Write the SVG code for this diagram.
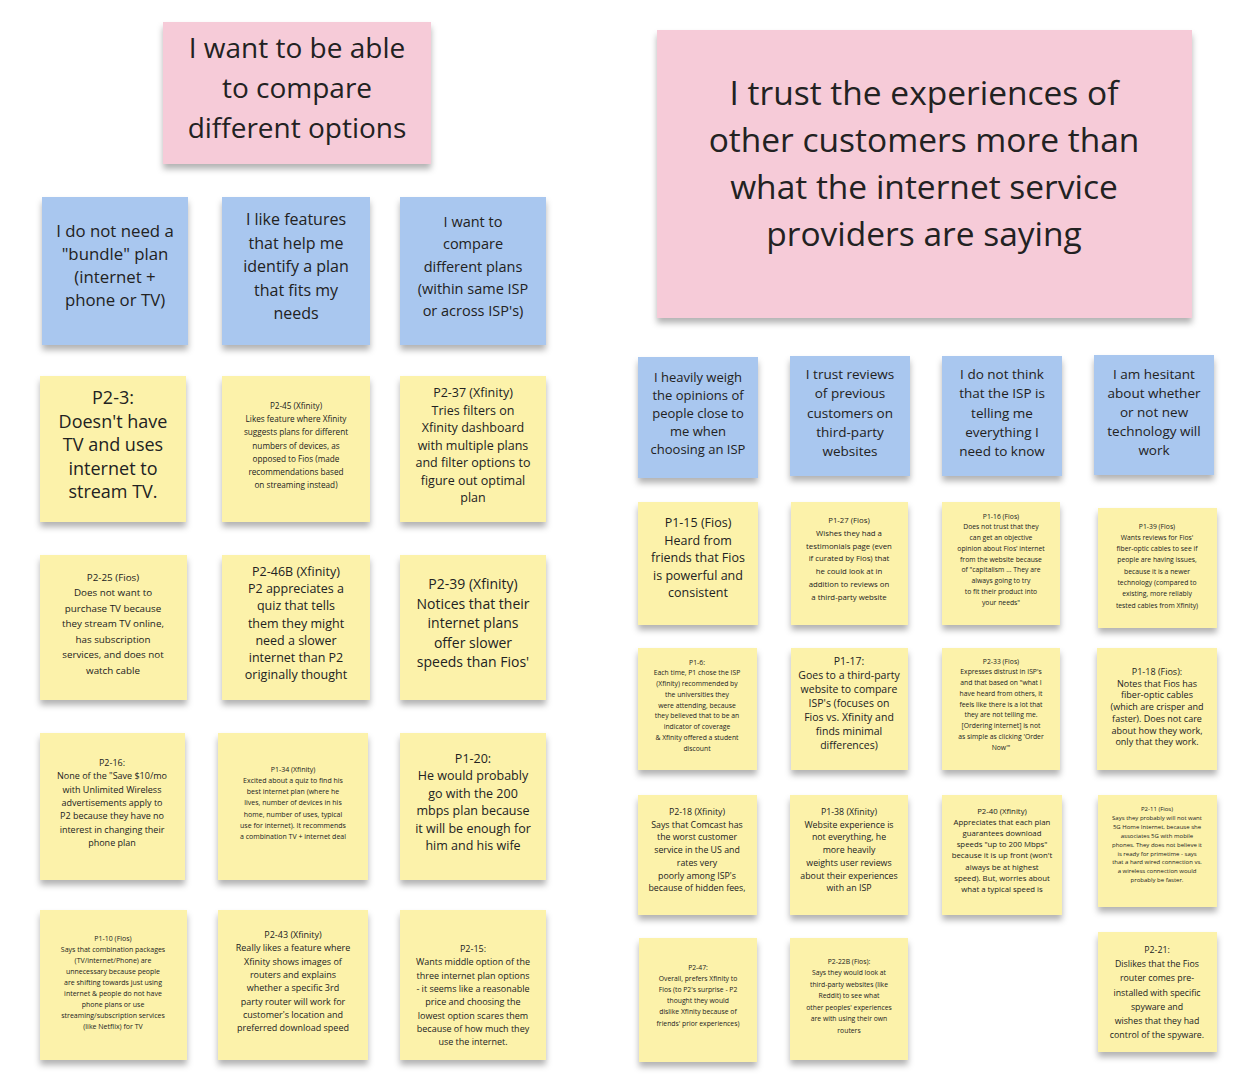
<svg xmlns="http://www.w3.org/2000/svg" width="1260" height="1092" viewBox="0 0 1260 1092">
<style>
.y{fill:#fcf2aa}
.b{fill:#a9c7ef}
.p{fill:#f6cbd8}
text{font-family:"Open Sans","Noto Sans","Liberation Sans",sans-serif;fill:#222222;text-anchor:middle}
</style>
<defs>
<filter id="sh" x="-10%" y="-10%" width="120%" height="130%">
<feDropShadow dx="0" dy="5" stdDeviation="3" flood-color="#000" flood-opacity="0.3"/>
</filter>
</defs>
<rect width="1260" height="1092" fill="#ffffff"/>
<g id="connectors"></g>

<g id="h-left"><rect class="p" x="163" y="22" width="268" height="142" filter="url(#sh)"/>
<text font-size="28" y="58"><tspan x="297">I want to be able</tspan><tspan x="297" dy="40">to compare</tspan><tspan x="297" dy="40">different options</tspan></text></g>

<g id="h-right"><rect class="p" x="657" y="30" width="535" height="288" filter="url(#sh)"/>
<text font-size="33.5" y="105"><tspan x="924">I trust the experiences of</tspan><tspan x="924" dy="47">other customers more than</tspan><tspan x="924" dy="47">what the internet service</tspan><tspan x="924" dy="47">providers are saying</tspan></text></g>

<!-- left blue -->
<g id="lb1"><rect class="b" x="42" y="197" width="146" height="148" filter="url(#sh)"/>
<text font-size="16.8" y="237"><tspan x="115">I do not need a</tspan><tspan x="115" dy="23">"bundle" plan</tspan><tspan x="115" dy="23">(internet +</tspan><tspan x="115" dy="23">phone or TV)</tspan></text></g>
<g id="lb2"><rect class="b" x="222" y="197" width="148" height="148" filter="url(#sh)"/>
<text font-size="16" y="225"><tspan x="296">I like features</tspan><tspan x="296" dy="23.5">that help me</tspan><tspan x="296" dy="23.5">identify a plan</tspan><tspan x="296" dy="23.5">that fits my</tspan><tspan x="296" dy="23.5">needs</tspan></text></g>
<g id="lb3"><rect class="b" x="400" y="197" width="146" height="148" filter="url(#sh)"/>
<text font-size="14.5" y="227"><tspan x="473">I want to</tspan><tspan x="473" dy="22.3">compare</tspan><tspan x="473" dy="22.3">different plans</tspan><tspan x="473" dy="22.3">(within same ISP</tspan><tspan x="473" dy="22.3">or across ISP's)</tspan></text></g>

<!-- left yellow row1 -->
<g id="p2-3"><rect class="y" x="40" y="376" width="146" height="146" filter="url(#sh)"/>
<text font-size="18" y="404"><tspan x="113">P2-3:</tspan><tspan x="113" dy="23.5">Doesn't have</tspan><tspan x="113" dy="23.5">TV and uses</tspan><tspan x="113" dy="23.5">internet to</tspan><tspan x="113" dy="23.5">stream TV.</tspan></text></g>
<g id="p2-45"><rect class="y" x="222" y="376" width="148" height="146" filter="url(#sh)"/>
<text font-size="8.2" y="409"><tspan x="296">P2-45 (Xfinity)</tspan><tspan x="296" dy="13.2">Likes feature where Xfinity</tspan><tspan x="296" dy="13.2">suggests plans for different</tspan><tspan x="296" dy="13.2">numbers of devices, as</tspan><tspan x="296" dy="13.2">opposed to Fios (made</tspan><tspan x="296" dy="13.2">recommendations based</tspan><tspan x="296" dy="13.2">on streaming instead)</tspan></text></g>
<g id="p2-37"><rect class="y" x="400" y="376" width="146" height="146" filter="url(#sh)"/>
<text font-size="12.5" y="397"><tspan x="473">P2-37 (Xfinity)</tspan><tspan x="473" dy="17.5">Tries filters on</tspan><tspan x="473" dy="17.5">Xfinity dashboard</tspan><tspan x="473" dy="17.5">with multiple plans</tspan><tspan x="473" dy="17.5">and filter options to</tspan><tspan x="473" dy="17.5">figure out optimal</tspan><tspan x="473" dy="17.5">plan</tspan></text></g>

<!-- row2 -->
<g id="p2-25"><rect class="y" x="40" y="555" width="147" height="145" filter="url(#sh)"/>
<text font-size="9.8" y="580.5"><tspan x="113">P2-25 (Fios)</tspan><tspan x="113" dy="15.5">Does not want to</tspan><tspan x="113" dy="15.5">purchase TV because</tspan><tspan x="113" dy="15.5">they stream TV online,</tspan><tspan x="113" dy="15.5">has subscription</tspan><tspan x="113" dy="15.5">services, and does not</tspan><tspan x="113" dy="15.5">watch cable</tspan></text></g>
<g id="p2-46b"><rect class="y" x="222" y="555" width="148" height="145" filter="url(#sh)"/>
<text font-size="12.5" y="576"><tspan x="296">P2-46B (Xfinity)</tspan><tspan x="296" dy="17.2">P2 appreciates a</tspan><tspan x="296" dy="17.2">quiz that tells</tspan><tspan x="296" dy="17.2">them they might</tspan><tspan x="296" dy="17.2">need a slower</tspan><tspan x="296" dy="17.2">internet than P2</tspan><tspan x="296" dy="17.2">originally thought</tspan></text></g>
<g id="p2-39"><rect class="y" x="400" y="555" width="146" height="145" filter="url(#sh)"/>
<text font-size="14" y="589"><tspan x="473">P2-39 (Xfinity)</tspan><tspan x="473" dy="19.5">Notices that their</tspan><tspan x="473" dy="19.5">internet plans</tspan><tspan x="473" dy="19.5">offer slower</tspan><tspan x="473" dy="19.5">speeds than Fios'</tspan></text></g>

<!-- row3 -->
<g id="p2-16"><rect class="y" x="40" y="733" width="145" height="147" filter="url(#sh)"/>
<text font-size="9" y="766"><tspan x="112">P2-16:</tspan><tspan x="112" dy="13.3">None of the "Save $10/mo</tspan><tspan x="112" dy="13.3">with Unlimited Wireless</tspan><tspan x="112" dy="13.3">advertisements apply to</tspan><tspan x="112" dy="13.3">P2 because they have no</tspan><tspan x="112" dy="13.3">interest in changing their</tspan><tspan x="112" dy="13.3">phone plan</tspan></text></g>
<g id="p1-34"><rect class="y" x="218" y="733" width="150" height="147" filter="url(#sh)"/>
<text font-size="7" y="771.5"><tspan x="293">P1-34 (Xfinity)</tspan><tspan x="293" dy="11.3">Excited about a quiz to find his</tspan><tspan x="293" dy="11.3">best internet plan (where he</tspan><tspan x="293" dy="11.3">lives, number of devices in his</tspan><tspan x="293" dy="11.3">home, number of uses, typical</tspan><tspan x="293" dy="11.3">use for internet). It recommends</tspan><tspan x="293" dy="11.3">a combination TV + internet deal</tspan></text></g>
<g id="p1-20"><rect class="y" x="400" y="733" width="146" height="147" filter="url(#sh)"/>
<text font-size="12.5" y="763"><tspan x="473">P1-20:</tspan><tspan x="473" dy="17.4">He would probably</tspan><tspan x="473" dy="17.4">go with the 200</tspan><tspan x="473" dy="17.4">mbps plan because</tspan><tspan x="473" dy="17.4">it will be enough for</tspan><tspan x="473" dy="17.4">him and his wife</tspan></text></g>

<!-- row4 -->
<g id="p1-10"><rect class="y" x="40" y="910" width="147" height="150" filter="url(#sh)"/>
<text font-size="7" y="940.5"><tspan x="113">P1-10 (Fios)</tspan><tspan x="113" dy="11.1">Says that combination packages</tspan><tspan x="113" dy="11.1">(TV/internet/Phone) are</tspan><tspan x="113" dy="11.1">unnecessary because people</tspan><tspan x="113" dy="11.1">are shifting towards just using</tspan><tspan x="113" dy="11.1">internet &amp; people do not have</tspan><tspan x="113" dy="11.1">phone plans or use</tspan><tspan x="113" dy="11.1">streaming/subscription services</tspan><tspan x="113" dy="11.1">(like Netflix) for TV</tspan></text></g>
<g id="p2-43"><rect class="y" x="218" y="910" width="150" height="150" filter="url(#sh)"/>
<text font-size="9" y="938"><tspan x="293">P2-43 (Xfinity)</tspan><tspan x="293" dy="13.3">Really likes a feature where</tspan><tspan x="293" dy="13.3">Xfinity shows images of</tspan><tspan x="293" dy="13.3">routers and explains</tspan><tspan x="293" dy="13.3">whether a specific 3rd</tspan><tspan x="293" dy="13.3">party router will work for</tspan><tspan x="293" dy="13.3">customer's location and</tspan><tspan x="293" dy="13.3">preferred download speed</tspan></text></g>
<g id="p2-15"><rect class="y" x="400" y="910" width="146" height="150" filter="url(#sh)"/>
<text font-size="9" y="952"><tspan x="473">P2-15:</tspan><tspan x="473" dy="13.3">Wants middle option of the</tspan><tspan x="473" dy="13.3">three internet plan options</tspan><tspan x="473" dy="13.3">- it seems like a reasonable</tspan><tspan x="473" dy="13.3">price and choosing the</tspan><tspan x="473" dy="13.3">lowest option scares them</tspan><tspan x="473" dy="13.3">because of how much they</tspan><tspan x="473" dy="13.3">use the internet.</tspan></text></g>

<!-- right blue -->
<g id="rb1"><rect class="b" x="638" y="357" width="120" height="121" filter="url(#sh)"/>
<text font-size="13" y="381.5"><tspan x="698">I heavily weigh</tspan><tspan x="698" dy="18">the opinions of</tspan><tspan x="698" dy="18">people close to</tspan><tspan x="698" dy="18">me when</tspan><tspan x="698" dy="18">choosing an ISP</tspan></text></g>
<g id="rb2"><rect class="b" x="790" y="356" width="120" height="120" filter="url(#sh)"/>
<text font-size="13.5" y="379"><tspan x="850">I trust reviews</tspan><tspan x="850" dy="19.25">of previous</tspan><tspan x="850" dy="19.25">customers on</tspan><tspan x="850" dy="19.25">third-party</tspan><tspan x="850" dy="19.25">websites</tspan></text></g>
<g id="rb3"><rect class="b" x="942" y="356" width="120" height="120" filter="url(#sh)"/>
<text font-size="13.5" y="379"><tspan x="1002">I do not think</tspan><tspan x="1002" dy="19.25">that the ISP is</tspan><tspan x="1002" dy="19.25">telling me</tspan><tspan x="1002" dy="19.25">everything I</tspan><tspan x="1002" dy="19.25">need to know</tspan></text></g>
<g id="rb4"><rect class="b" x="1094" y="355" width="120" height="120" filter="url(#sh)"/>
<text font-size="13.5" y="379"><tspan x="1154">I am hesitant</tspan><tspan x="1154" dy="19">about whether</tspan><tspan x="1154" dy="19">or not new</tspan><tspan x="1154" dy="19">technology will</tspan><tspan x="1154" dy="19">work</tspan></text></g>

<!-- right row1 -->
<g id="p1-15"><rect class="y" x="638" y="502" width="120" height="123" filter="url(#sh)"/>
<text font-size="12.5" y="527"><tspan x="698">P1-15 (Fios)</tspan><tspan x="698" dy="17.5">Heard from</tspan><tspan x="698" dy="17.5">friends that Fios</tspan><tspan x="698" dy="17.5">is powerful and</tspan><tspan x="698" dy="17.5">consistent</tspan></text></g>
<g id="p1-27"><rect class="y" x="791" y="502" width="117" height="123" filter="url(#sh)"/>
<text font-size="7.8" y="523"><tspan x="849">P1-27 (Fios)</tspan><tspan x="849" dy="12.8">Wishes they had a</tspan><tspan x="849" dy="12.8">testimonials page (even</tspan><tspan x="849" dy="12.8">if curated by Fios) that</tspan><tspan x="849" dy="12.8">he could look at in</tspan><tspan x="849" dy="12.8">addition to reviews on</tspan><tspan x="849" dy="12.8">a third-party website</tspan></text></g>
<g id="p1-16"><rect class="y" x="942" y="502" width="118" height="123" filter="url(#sh)"/>
<text font-size="6.8" y="518.5"><tspan x="1001">P1-16 (Fios)</tspan><tspan x="1001" dy="10.75">Does not trust that they</tspan><tspan x="1001" dy="10.75">can get an objective</tspan><tspan x="1001" dy="10.75">opinion about Fios' internet</tspan><tspan x="1001" dy="10.75">from the website because</tspan><tspan x="1001" dy="10.75">of "capitalism ... They are</tspan><tspan x="1001" dy="10.75">always going to try</tspan><tspan x="1001" dy="10.75">to fit their product into</tspan><tspan x="1001" dy="10.75">your needs"</tspan></text></g>
<g id="p1-39"><rect class="y" x="1098" y="508" width="119" height="120" filter="url(#sh)"/>
<text font-size="6.8" y="528.5"><tspan x="1157">P1-39 (Fios)</tspan><tspan x="1157" dy="11.3">Wants reviews for Fios'</tspan><tspan x="1157" dy="11.3">fiber-optic cables to see if</tspan><tspan x="1157" dy="11.3">people are having issues,</tspan><tspan x="1157" dy="11.3">because it is a newer</tspan><tspan x="1157" dy="11.3">technology (compared to</tspan><tspan x="1157" dy="11.3">existing, more reliably</tspan><tspan x="1157" dy="11.3">tested cables from Xfinity)</tspan></text></g>

<!-- right row2 -->
<g id="p1-6"><rect class="y" x="638" y="648" width="119" height="122" filter="url(#sh)"/>
<text font-size="6.8" y="664.5"><tspan x="697">P1-6:</tspan><tspan x="697" dy="10.75">Each time, P1 chose the ISP</tspan><tspan x="697" dy="10.75">(Xfinity) recommended by</tspan><tspan x="697" dy="10.75">the universities they</tspan><tspan x="697" dy="10.75">were attending, because</tspan><tspan x="697" dy="10.75">they believed that to be an</tspan><tspan x="697" dy="10.75">indicator of coverage</tspan><tspan x="697" dy="10.75">&amp; Xfinity offered a student</tspan><tspan x="697" dy="10.75">discount</tspan></text></g>
<g id="p1-17"><rect class="y" x="791" y="648" width="117" height="122" filter="url(#sh)"/>
<text font-size="10.5" y="664.7"><tspan x="849">P1-17:</tspan><tspan x="849" dy="14">Goes to a third-party</tspan><tspan x="849" dy="14">website to compare</tspan><tspan x="849" dy="14">ISP's (focuses on</tspan><tspan x="849" dy="14">Fios vs. Xfinity and</tspan><tspan x="849" dy="14">finds minimal</tspan><tspan x="849" dy="14">differences)</tspan></text></g>
<g id="p2-33"><rect class="y" x="942" y="648" width="118" height="122" filter="url(#sh)"/>
<text font-size="6.8" y="663.5"><tspan x="1001">P2-33 (Fios)</tspan><tspan x="1001" dy="10.75">Expresses distrust in ISP's</tspan><tspan x="1001" dy="10.75">and that based on "what I</tspan><tspan x="1001" dy="10.75">have heard from others, it</tspan><tspan x="1001" dy="10.75">feels like there is a lot that</tspan><tspan x="1001" dy="10.75">they are not telling me.</tspan><tspan x="1001" dy="10.75">[Ordering internet] is not</tspan><tspan x="1001" dy="10.75">as simple as clicking 'Order</tspan><tspan x="1001" dy="10.75">Now'"</tspan></text></g>
<g id="p1-18"><rect class="y" x="1097" y="648" width="120" height="122" filter="url(#sh)"/>
<text font-size="9" y="675"><tspan x="1157">P1-18 (Fios):</tspan><tspan x="1157" dy="11.7">Notes that Fios has</tspan><tspan x="1157" dy="11.7">fiber-optic cables</tspan><tspan x="1157" dy="11.7">(which are crisper and</tspan><tspan x="1157" dy="11.7">faster). Does not care</tspan><tspan x="1157" dy="11.7">about how they work,</tspan><tspan x="1157" dy="11.7">only that they work.</tspan></text></g>

<!-- right row3 -->
<g id="p2-18"><rect class="y" x="638" y="795" width="119" height="120" filter="url(#sh)"/>
<text font-size="8.8" y="815"><tspan x="697">P2-18 (Xfinity)</tspan><tspan x="697" dy="12.7">Says that Comcast has</tspan><tspan x="697" dy="12.7">the worst customer</tspan><tspan x="697" dy="12.7">service in the US and</tspan><tspan x="697" dy="12.7">rates very</tspan><tspan x="697" dy="12.7">poorly among ISP's</tspan><tspan x="697" dy="12.7">because of hidden fees,</tspan></text></g>
<g id="p1-38"><rect class="y" x="790" y="795" width="118" height="120" filter="url(#sh)"/>
<text font-size="8.8" y="815"><tspan x="849">P1-38 (Xfinity)</tspan><tspan x="849" dy="12.7">Website experience is</tspan><tspan x="849" dy="12.7">not everything, he</tspan><tspan x="849" dy="12.7">more heavily</tspan><tspan x="849" dy="12.7">weights user reviews</tspan><tspan x="849" dy="12.7">about their experiences</tspan><tspan x="849" dy="12.7">with an ISP</tspan></text></g>
<g id="p2-40"><rect class="y" x="942" y="795" width="120" height="120" filter="url(#sh)"/>
<text font-size="7.8" y="814"><tspan x="1002">P2-40 (Xfinity)</tspan><tspan x="1002" dy="11.1">Appreciates that each plan</tspan><tspan x="1002" dy="11.1">guarantees download</tspan><tspan x="1002" dy="11.1">speeds "up to 200 Mbps"</tspan><tspan x="1002" dy="11.1">because it is up front (won't</tspan><tspan x="1002" dy="11.1">always be at highest</tspan><tspan x="1002" dy="11.1">speed). But, worries about</tspan><tspan x="1002" dy="11.1">what a typical speed is</tspan></text></g>
<g id="p2-11"><rect class="y" x="1098" y="795" width="119" height="112" filter="url(#sh)"/>
<text font-size="6" y="811"><tspan x="1157">P2-11 (Fios)</tspan><tspan x="1157" dy="8.9">Says they probably will not want</tspan><tspan x="1157" dy="8.9">5G Home Internet, because she</tspan><tspan x="1157" dy="8.9">associates 5G with mobile</tspan><tspan x="1157" dy="8.9">phones. They does not believe it</tspan><tspan x="1157" dy="8.9">is ready for primetime - says</tspan><tspan x="1157" dy="8.9">that a hard wired connection vs.</tspan><tspan x="1157" dy="8.9">a wireless connection would</tspan><tspan x="1157" dy="8.9">probably be faster.</tspan></text></g>

<!-- right row4 -->
<g id="p2-47"><rect class="y" x="639" y="938" width="118" height="124" filter="url(#sh)"/>
<text font-size="6.8" y="969.5"><tspan x="698">P2-47:</tspan><tspan x="698" dy="11.2">Overall, prefers Xfinity to</tspan><tspan x="698" dy="11.2">Fios (to P2's surprise - P2</tspan><tspan x="698" dy="11.2">thought they would</tspan><tspan x="698" dy="11.2">dislike Xfinity because of</tspan><tspan x="698" dy="11.2">friends' prior experiences)</tspan></text></g>
<g id="p2-22b"><rect class="y" x="790" y="938" width="118" height="122" filter="url(#sh)"/>
<text font-size="6.8" y="963.5"><tspan x="849">P2-22B (Fios):</tspan><tspan x="849" dy="11.5">Says they would look at</tspan><tspan x="849" dy="11.5">third-party websites (like</tspan><tspan x="849" dy="11.5">Reddit) to see what</tspan><tspan x="849" dy="11.5">other peoples' experiences</tspan><tspan x="849" dy="11.5">are with using their own</tspan><tspan x="849" dy="11.5">routers</tspan></text></g>
<g id="p2-21"><rect class="y" x="1098" y="932" width="119" height="120" filter="url(#sh)"/>
<text font-size="8.8" y="953"><tspan x="1157">P2-21:</tspan><tspan x="1157" dy="14.2">Dislikes that the Fios</tspan><tspan x="1157" dy="14.2">router comes pre-</tspan><tspan x="1157" dy="14.2">installed with specific</tspan><tspan x="1157" dy="14.2">spyware and</tspan><tspan x="1157" dy="14.2">wishes that they had</tspan><tspan x="1157" dy="14.2">control of the spyware.</tspan></text></g>
</svg>
